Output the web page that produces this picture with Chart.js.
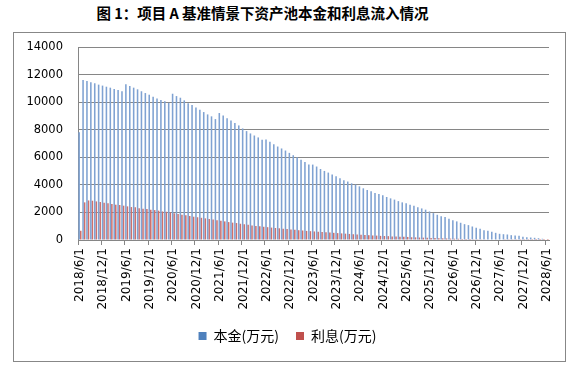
<!DOCTYPE html>
<html>
<head>
<meta charset="utf-8">
<script src="https://cdn.jsdelivr.net/npm/chart.js@4"></script>
<style>
  html, body { margin: 0; padding: 0; background: #fff; }
  #wrap { position: relative; width: 583px; height: 366px; }
  #title { position: absolute; left: 0; top: 3px; width: 525px; text-align: center;
           font: bold 14.5px "Noto Sans CJK SC"; line-height: 20px; color: #000; }
  #frame { position: absolute; left: 13px; top: 32px; width: 551px; height: 328px;
           border: 1px solid #878787; }
  #chartCanvas { position: absolute; left: 0; top: 0; }
</style>
</head>
<body>
<div id="wrap">
  <div id="title">图 1：项目 A 基准情景下资产池本金和利息流入情况</div>
  <div id="frame"></div>
  <canvas id="chartCanvas" width="583" height="366"></canvas>
</div>
<script>
// monthly categories 2018/6/1 .. 2028/6/1
const categories = [];
for (let y = 2018, m = 6; categories.length < 121; m++) {
    if (m > 12) { m = 1; y++; }
    categories.push(y + "/" + m + "/1");
}

const seriesNames = ["本金(万元)", "利息(万元)"];

// 本金 (万元)
const principal = [
    7820, 11610, 11540, 11440, 11370, 11270, 11200, 11120, 11050, 10950, 10880, 10790,
    11300, 11170, 11050, 10930, 10790, 10660, 10540, 10390, 10270, 10150, 10060, 9950,
    10610, 10440, 10320, 10130, 9920, 9800, 9620, 9450, 9280, 9110, 8970, 8770,
    9210, 9040, 8840, 8670, 8480, 8310, 8090, 7900, 7730, 7580, 7440, 7270,
    7290, 7120, 6950, 6780, 6640, 6490, 6320, 6150, 6000, 5830, 5660, 5470,
    5470, 5330, 5150, 5010, 4890, 4750, 4620, 4480, 4330, 4240, 4110, 4020,
    3890, 3750, 3630, 3530, 3410, 3330, 3240, 3120, 3020, 2930, 2820, 2730,
    2660, 2560, 2490, 2370, 2290, 2200, 2070, 1950, 1830, 1730, 1660, 1540,
    1440, 1350, 1250, 1150, 1080, 980, 890, 820, 710, 670, 600, 520,
    450, 420, 400, 350, 330, 300, 230, 200, 180, 160, 130, 90,
    40
];

// 利息 (万元)
const interest = [
    670, 2730, 2870, 2850, 2800, 2750, 2710, 2660, 2610, 2560, 2540, 2490,
    2440, 2390, 2370, 2310, 2270, 2240, 2200, 2170, 2130, 2070, 2050, 2000,
    1940, 1880, 1830, 1800, 1740, 1690, 1650, 1610, 1570, 1530, 1480, 1440,
    1400, 1350, 1300, 1260, 1230, 1180, 1140, 1100, 1060, 1020, 990, 960,
    930, 900, 870, 850, 820, 790, 760, 740, 710, 690, 660, 640,
    620, 600, 580, 560, 540, 520, 500, 480, 460, 440, 410, 390,
    380, 360, 350, 330, 320, 300, 290, 280, 260, 250, 240, 230,
    220, 200, 190, 180, 170, 160, 150, 140, 130, 120, 110, 100,
    95, 90, 80, 75, 70, 60, 55, 50, 45, 40, 36, 32,
    28, 25, 22, 19, 16, 14, 12, 10, 8, 6, 5, 3,
    2
];

const yTicks = [0, 2000, 4000, 6000, 8000, 10000, 12000, 14000];

const barColors = ["#7FA2D2", "#CD706D"];
const legendColors = ["#4F81BD", "#C0504D"];
const axisGray = "#868686";

const chartCanvas = document.getElementById("chartCanvas");

const chart = new Chart(chartCanvas, {
    type: "bar",
    data: {
        labels: categories,
        datasets: [
            { label: seriesNames[0], data: principal, backgroundColor: barColors[0] },
            { label: seriesNames[1], data: interest, backgroundColor: barColors[1] }
        ]
    },
    options: {
        responsive: false,
        animation: false,
        events: [],
        layout: {
            padding: { left: 26, right: 34, top: 47, bottom: 13 }
        },
        datasets: {
            bar: { categoryPercentage: 0.8, barPercentage: 1.0 }
        },
        scales: {
            x: {
                grid: {
                    offset: true,
                    drawOnChartArea: false,
                    tickLength: 5,
                    color: (c) => (c.index % 6 === 0 ? axisGray : "rgba(0,0,0,0)")
                },
                border: { color: axisGray },
                ticks: {
                    autoSkip: false,
                    minRotation: 90,
                    maxRotation: 90,
                    padding: 3,
                    color: "#000",
                    font: { family: "DejaVu Sans", size: 12 },
                    callback: (v, i) => (i % 6 === 0 ? categories[i] : "")
                },
                afterFit: (s) => { s.height = 72; }
            },
            y: {
                min: yTicks[0],
                max: yTicks[yTicks.length - 1],
                grid: { color: axisGray, drawTicks: false },
                border: { color: axisGray },
                ticks: {
                    stepSize: 2000,
                    padding: 15,
                    color: "#000",
                    font: { family: "DejaVu Sans", size: 11.5 },
                    callback: (v) => String(v)
                },
                afterFit: (s) => { s.width = 52; }
            }
        },
        plugins: {
            legend: {
                position: "bottom",
                labels: {
                    boxWidth: 8,
                    boxHeight: 8,
                    padding: 17,
                    color: "#000",
                    font: { family: "Noto Sans CJK SC", size: 14 },
                    generateLabels: (ch) => {
                        const items = Chart.defaults.plugins.legend.labels.generateLabels(ch);
                        items.forEach((it, i) => {
                            it.fillStyle = legendColors[i];
                            it.strokeStyle = legendColors[i];
                            it.lineWidth = 0;
                        });
                        return items;
                    }
                }
            },
            tooltip: { enabled: false }
        }
    }
});
</script>
</body>
</html>
